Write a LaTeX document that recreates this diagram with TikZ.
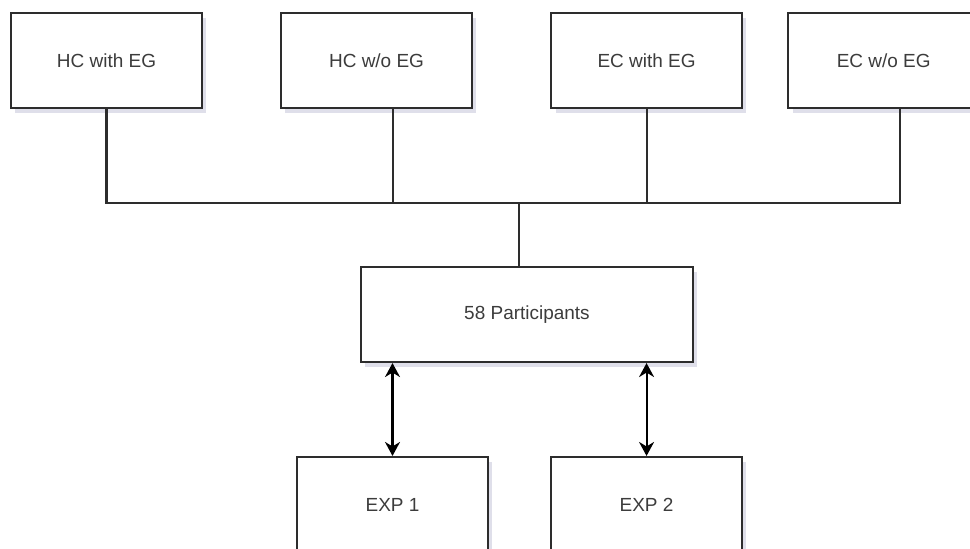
\documentclass[tikz,border=0pt]{standalone}
\usepackage{fontspec}
\setmainfont{Liberation Sans}
\usetikzlibrary{arrows.meta,positioning,shadows}
\definecolor{lineGrey}{RGB}{45,45,45}
\definecolor{textGrey}{RGB}{60,60,60}
\definecolor{shadowBlue}{RGB}{150,150,185}
\tikzset{
    every node/.append style={align=center},
    box/.style={rectangle,draw=lineGrey,line width=1.2pt,fill=white,minimum height=1.9cm,
        minimum width=3.82cm,text=textGrey,font=\fontsize{10.8}{13}\selectfont,
        drop shadow={shadow xshift=2.5pt,shadow yshift=-3pt,opacity=0.3,fill=shadowBlue}},
    link/.style={draw=lineGrey,line width=1.2pt},
    darr/.style={{Stealth[length=2.8mm,width=3mm,inset=0.9mm]}-{Stealth[length=2.8mm,width=3mm,inset=0.9mm]},
        line width=1.2pt,draw=black}
}

\begin{document}
\begin{tikzpicture}[x=0.02cm,y=-0.02cm]
    \useasboundingbox (0,0) rectangle (970,548);
    \node[box] (hcw) at (106.5,60.5) {HC with EG};
    \node[box,right=1.54cm of hcw] (hcwo) {HC w/o EG};
    \node[box,right=1.54cm of hcwo] (ecw) {EC with EG};
    \node[box,right=0.88cm of ecw] (ecwo) {EC w/o EG};

    \node[box,minimum width=6.64cm] (part) at (527,314.5) {58 Participants};
    \node[box] (expone) at (392.5,504.5) {EXP 1};
    \node[box,right=1.22cm of expone] (exptwo) {EXP 2};

    \coordinate (bus) at (519,203);
    \draw[link] (hcw.south) |- (bus);
    \draw[link] ([xshift=0.33cm]hcwo.south) |- (bus);
    \draw[link] (ecw.south) |- (bus);
    \draw[link] ([xshift=0.33cm]ecwo.south) |- (bus);
    \draw[link] (bus) -- (bus |- part.north);

    \draw[darr] (expone.north) -- (expone.north |- part.south);
    \draw[darr] (exptwo.north) -- (exptwo.north |- part.south);
\end{tikzpicture}
\end{document}
